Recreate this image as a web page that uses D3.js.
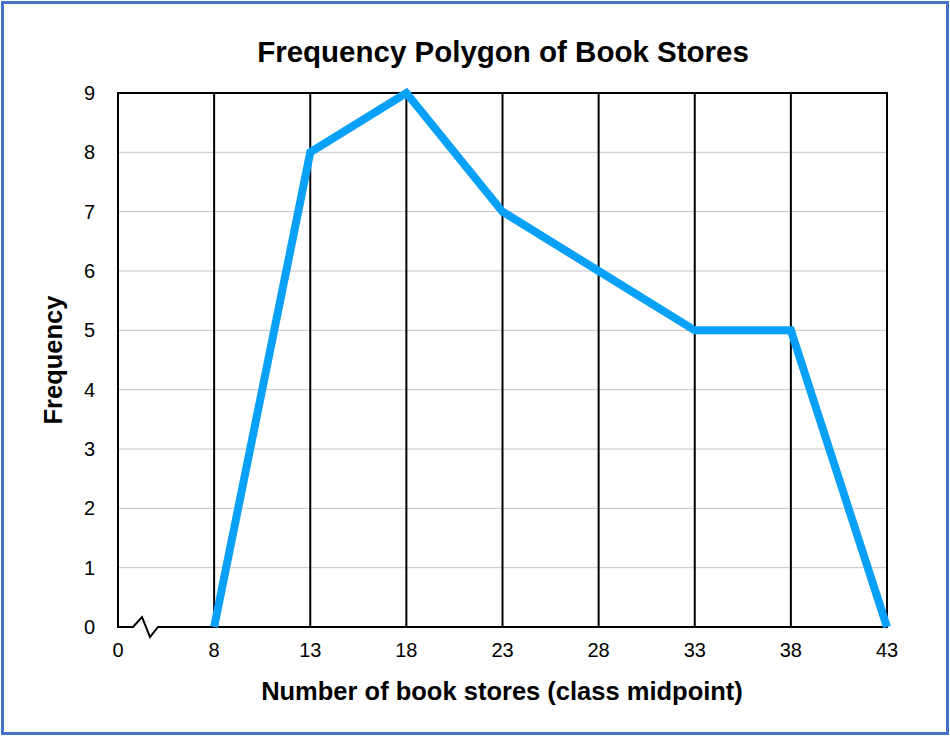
<!DOCTYPE html>
<html>
<head>
<meta charset="utf-8">
<script src="https://cdn.jsdelivr.net/npm/d3@7"></script>
<style>
  body { margin: 0; background: #fff; }
  svg { display: block; font-family: "Liberation Sans", Arial, sans-serif; }
</style>
</head>
<body>
<div id="chart"></div>
<script>
// x axis tick labels (0 is the broken-axis origin)
var tickLabels = ["0", "8", "13", "18", "23", "28", "33", "38", "43"];
// class midpoints and their frequencies
var midpoints = ["8", "13", "18", "23", "28", "33", "38", "43"];
var frequencies = [0, 8, 9, 7, 6, 5, 5, 0];
var yTicks = [0, 1, 2, 3, 4, 5, 6, 7, 8, 9];

var width = 950, height = 736;
var margin = {top: 93, right: 63, bottom: 109, left: 118};

var svg = d3.select("#chart").append("svg")
    .attr("width", width)
    .attr("height", height);

// outer blue frame
svg.append("rect")
    .attr("x", 2.5).attr("y", 2.5)
    .attr("width", width - 5).attr("height", height - 5)
    .attr("fill", "none")
    .attr("stroke", "#4472c4")
    .attr("stroke-width", 3);

var x = d3.scalePoint()
    .domain(tickLabels)
    .range([margin.left, width - margin.right]);

var y = d3.scaleLinear()
    .domain([0, 9])
    .range([height - margin.bottom, margin.top]);

// horizontal gridlines
svg.append("g")
    .selectAll("line")
    .data(yTicks.slice(1, -1))
    .enter().append("line")
    .attr("x1", x("0")).attr("x2", x("43"))
    .attr("y1", d => y(d)).attr("y2", d => y(d))
    .attr("stroke", "#c4c4c4")
    .attr("stroke-width", 1);

// vertical black lines at each class midpoint
svg.append("g")
    .selectAll("line")
    .data(tickLabels)
    .enter().append("line")
    .attr("x1", d => x(d)).attr("x2", d => x(d))
    .attr("y1", y(0)).attr("y2", y(9))
    .attr("stroke", "#000")
    .attr("stroke-width", 2);

// top line
svg.append("line")
    .attr("x1", x("0") - 1).attr("x2", x("43") + 1)
    .attr("y1", y(9)).attr("y2", y(9))
    .attr("stroke", "#000")
    .attr("stroke-width", 2);

// bottom axis with zigzag break
var y0 = y(0);
var x0 = x("0");
var breakPath = d3.line()([
    [x0 - 1, y0], [x0 + 15, y0], [x0 + 24, y0 - 10],
    [x0 + 32, y0 + 10], [x0 + 40, y0], [x("43") + 1, y0]
]);
svg.append("path")
    .attr("d", breakPath)
    .attr("fill", "none")
    .attr("stroke", "#000")
    .attr("stroke-width", 2)
    .attr("stroke-linejoin", "miter");

// frequency polygon
var line = d3.line()
    .x((d, i) => x(midpoints[i]))
    .y(d => y(d));

svg.append("path")
    .datum(frequencies)
    .attr("d", line)
    .attr("fill", "none")
    .attr("stroke", "#09a0f7")
    .attr("stroke-width", 8)
    .attr("stroke-linejoin", "miter");

// y tick labels
svg.append("g")
    .selectAll("text")
    .data(yTicks)
    .enter().append("text")
    .attr("x", 95)
    .attr("y", d => y(d) + 7)
    .attr("text-anchor", "end")
    .attr("font-size", 20)
    .text(d => d);

// x tick labels
svg.append("g")
    .selectAll("text")
    .data(tickLabels)
    .enter().append("text")
    .attr("x", d => x(d))
    .attr("y", 657)
    .attr("text-anchor", "middle")
    .attr("font-size", 20)
    .text(d => d);

// title
svg.append("text")
    .attr("x", 503).attr("y", 62)
    .attr("text-anchor", "middle")
    .attr("font-size", 29.5)
    .attr("font-weight", "bold")
    .text("Frequency Polygon of Book Stores");

// x axis title
svg.append("text")
    .attr("x", 502).attr("y", 700)
    .attr("text-anchor", "middle")
    .attr("font-size", 25.5)
    .attr("font-weight", "bold")
    .text("Number of book stores (class midpoint)");

// y axis title
svg.append("text")
    .attr("transform", "translate(62,360) rotate(-90)")
    .attr("text-anchor", "middle")
    .attr("font-size", 25.5)
    .attr("font-weight", "bold")
    .text("Frequency");
</script>
</body>
</html>
